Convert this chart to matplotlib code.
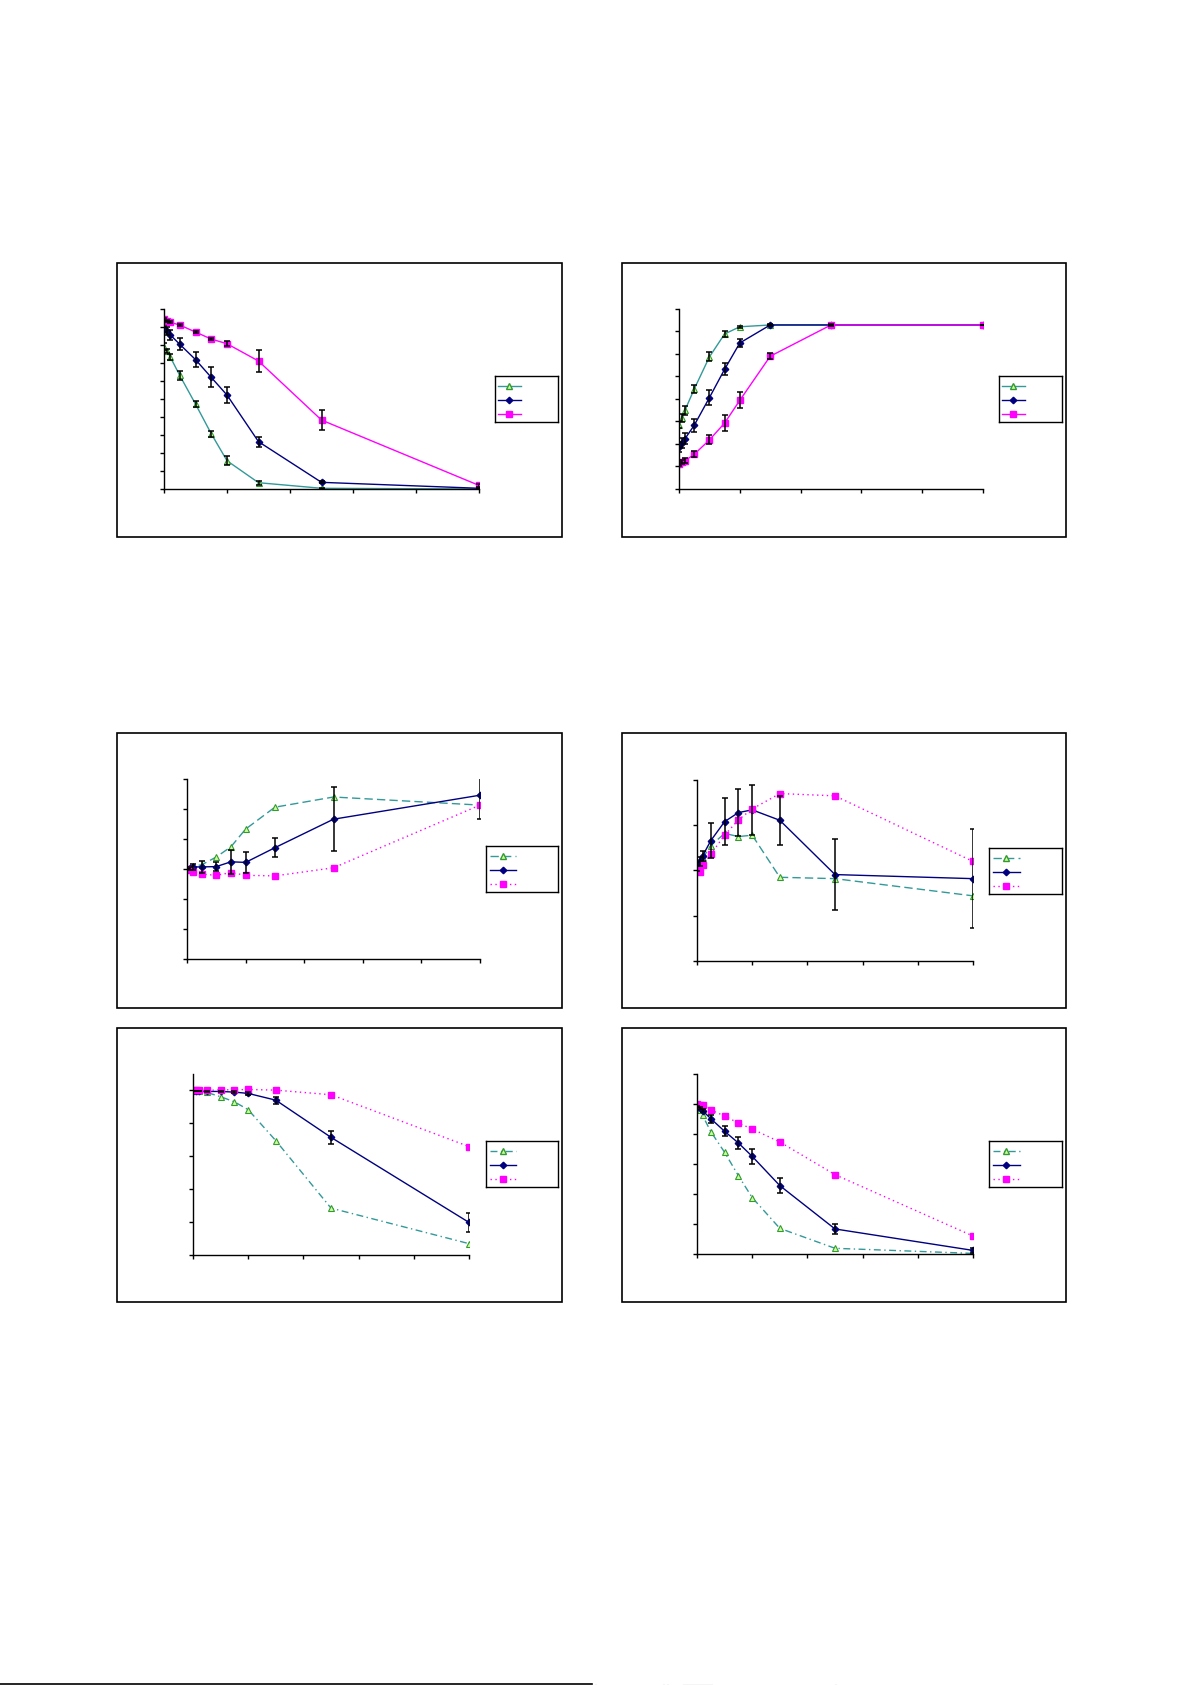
import matplotlib
matplotlib.use("Agg")
import matplotlib.pyplot as plt
from matplotlib.lines import Line2D
from matplotlib.patches import Rectangle

W, H = 1191, 1685

# concentrations (same for every panel)
x_conc = [0, 0.5, 1, 2.5, 5, 7.5, 10, 15, 25, 50]

# panel A (top left)
a_green = [79.1, 76.7, 73.3, 63.1, 47.2, 30.7, 15.7, 3.5, 0.4, 0.0]
a_navy = [88.9, 87.8, 85.6, 80.4, 71.9, 62.0, 52.2, 26.3, 3.7, 0.4]
a_pink = [94.4, 93.5, 92.6, 91.1, 87.2, 83.3, 80.7, 71.1, 38.3, 2.0]
a_green_err = [1.8, 1.0, 1.5, 2.4, 1.7, 1.6, 2.5, 1.2, 0.3, 0.2]
a_navy_err = [1.5, 2.0, 2.8, 3.3, 4.2, 5.5, 4.3, 2.8, 0.5, 0.3]
a_pink_err = [0.8, 0.5, 0.5, 0.6, 0.8, 0.8, 1.5, 5.9, 5.8, 1.0]

# panel B (top right)
b_green = [2.86, 3.16, 3.51, 4.44, 5.87, 6.89, 7.21, 7.29, 7.29, 7.29]
b_navy = [1.85, 2.04, 2.24, 2.83, 4.06, 5.32, 6.49, 7.29, 7.29, 7.29]
b_pink = [1.11, 1.19, 1.26, 1.54, 2.18, 2.93, 3.94, 5.90, 7.29, 7.29]
b_green_err = [0.15, 0.17, 0.2, 0.18, 0.2, 0.13, 0.05, 0, 0, 0]
b_navy_err = [0.22, 0.22, 0.26, 0.3, 0.32, 0.27, 0.18, 0.03, 0, 0]
b_pink_err = [0.1, 0.1, 0.1, 0.13, 0.2, 0.36, 0.35, 0.13, 0.03, 0]

# panel C (middle left)
c_green = [3.0, 3.02, 3.09, 3.14, 3.4, 3.74, 4.33, 5.06, 5.4, 5.13]
c_navy = [3.0, 3.03, 3.07, 3.07, 3.08, 3.24, 3.22, 3.71, 4.66, 5.46]
c_pink = [3.0, 2.98, 2.9, 2.83, 2.79, 2.88, 2.79, 2.77, 3.04, 5.13]
c_navy_err = [0, 0.05, 0.1, 0.2, 0.16, 0.4, 0.35, 0.32, 1.07, 0.78]

# panel D (middle right)
d_green = [2.01, 2.13, 2.27, 2.55, 2.82, 2.75, 2.78, 1.85, 1.82, 1.44]
d_navy = [2.09, 2.2, 2.32, 2.66, 3.08, 3.28, 3.34, 3.11, 1.91, 1.82]
d_pink = [2.01, 1.96, 2.12, 2.36, 2.78, 3.12, 3.36, 3.70, 3.65, 2.2]
d_navy_err = [0.1, 0.1, 0.1, 0.38, 0.52, 0.52, 0.55, 0.54, 0.78, 1.1]

# panel E (bottom left)
e_green = [99.8, 99.6, 99.4, 98.8, 96.2, 93.1, 88.3, 69.5, 28.5, 6.9]
e_navy = [99.8, 99.6, 99.6, 99.4, 99.4, 99.0, 98.2, 94.1, 71.5, 19.8]
e_pink = [100, 100, 100, 100, 100.4, 100.4, 100.6, 100.2, 97.4, 65.9]
e_navy_err = [0, 0, 0, 0.3, 0.5, 0.8, 1.0, 2.1, 4.0, 5.8]

# panel F (bottom right)
f_green = [97.3, 96.0, 92.4, 81.6, 67.8, 52.2, 37.6, 17.1, 3.8, 0.4]
f_navy = [98.2, 97.3, 95.6, 90.2, 81.8, 74.0, 65.1, 45.6, 16.7, 2.4]
f_pink = [100, 99.6, 99.3, 96, 92, 87.3, 83.3, 74.7, 52.9, 12]
f_navy_err = [0.5, 0.8, 1.0, 2.8, 3.3, 4.3, 5.0, 5.1, 3.3, 1.5]

GREEN_LINE = "#339999"
GREEN_EDGE = "#339933"
GREEN_FACE = "#ccff99"
NAVY = "#000080"
PINK = "#ff00ff"

DASHED = (0, (6, 3))
DOTTED = (0, (1, 2.5))
DASHDOT = (0, (5, 2.5, 1, 2.5))


def fbox(x0, y0, x1, y1):
    return [x0 / W, 1 - y1 / H, (x1 - x0) / W, (y1 - y0) / H]


def styles(green_ls, pink_ls):
    return [
        dict(color=GREEN_LINE, ls=green_ls, marker="^", ms=4.8, mfc=GREEN_FACE, mec=GREEN_EDGE, mew=0.8),
        dict(color=NAVY, ls="-", marker="D", ms=3.3, mfc=NAVY, mec=NAVY),
        dict(color=PINK, ls=pink_ls, marker="s", ms=4.6, mfc=PINK, mec=PINK),
    ]


def panel(fig, frame, axbox, legbox, series, errs, ymax, ystep, sty):
    fig.add_artist(Rectangle((frame[0] / W, 1 - frame[3] / H),
                             (frame[2] - frame[0]) / W, (frame[3] - frame[1]) / H,
                             transform=fig.transFigure, fill=False, ec="black", lw=1.2))
    ax = fig.add_axes(fbox(*axbox))
    for ys, st in zip(series, sty):
        ax.plot(x_conc, ys, lw=1.0, zorder=2, **st)
    for ys, e in errs:
        ax.errorbar(x_conc, ys, yerr=e, fmt="none", ecolor="black",
                    elinewidth=1.1, capsize=2.5, capthick=1.1, zorder=3)
    ax.set_xlim(0, 50)
    ax.set_ylim(0, ymax)
    ax.set_xticks(range(0, 51, 10))
    yt = []
    v = 0
    while v <= ymax + 1e-9:
        yt.append(v)
        v += ystep
    ax.set_yticks(yt)
    ax.set_xticklabels([])
    ax.set_yticklabels([])
    ax.tick_params(direction="out", length=3, width=1, colors="black")
    for s in ["top", "right"]:
        ax.spines[s].set_visible(False)
    for s in ["left", "bottom"]:
        ax.spines[s].set_linewidth(1.0)
    ax.patch.set_alpha(0)
    for s in ax.spines.values():
        s.set_clip_on(False)

    lg = fig.add_axes(fbox(*legbox))
    lg.set_xlim(0, 1)
    lg.set_ylim(0, 1)
    lg.set_xticks([])
    lg.set_yticks([])
    for s in lg.spines.values():
        s.set_linewidth(1.0)
    for yy, st in zip([0.78, 0.48, 0.17], sty):
        st2 = dict(st)
        mk = {k: st2.pop(k) for k in ["marker", "ms", "mfc", "mec"] if k in st2}
        st2.pop("mew", None)
        lg.plot([0.05, 0.42], [yy, yy], lw=1.0, color=st2["color"], ls=st2["ls"])
        lg.plot([0.23], [yy], ls="none", marker=mk["marker"], ms=mk["ms"],
                mfc=mk["mfc"], mec=mk["mec"])
    return ax


fig = plt.figure(figsize=(W / 100, H / 100), dpi=100)

panel(fig, (117, 263, 562, 537), (164, 309, 479, 489), (495, 376, 558, 422),
      [a_green, a_navy, a_pink],
      [(a_green, a_green_err), (a_navy, a_navy_err), (a_pink, a_pink_err)],
      100, 10, styles("-", "-"))

panel(fig, (622, 263, 1066, 537), (679, 309, 983, 489), (999, 376, 1062, 422),
      [b_green, b_navy, b_pink],
      [(b_green, b_green_err), (b_navy, b_navy_err), (b_pink, b_pink_err)],
      8, 1, styles("-", "-"))

panel(fig, (117, 733, 562, 1008), (187, 779, 480, 959), (486, 846, 558, 892),
      [c_green, c_navy, c_pink],
      [(c_navy, c_navy_err)],
      6, 1, styles(DASHED, DOTTED))

panel(fig, (622, 733, 1066, 1008), (697, 780, 973, 961), (989, 848, 1062, 894),
      [d_green, d_navy, d_pink],
      [(d_navy, d_navy_err)],
      4, 1, styles(DASHED, DOTTED))

panel(fig, (117, 1028, 562, 1302), (193, 1074, 469, 1255), (486, 1141, 558, 1187),
      [e_green, e_navy, e_pink],
      [(e_navy, e_navy_err)],
      110, 20, styles(DASHDOT, DOTTED))

panel(fig, (622, 1028, 1066, 1302), (697, 1074, 973, 1254), (989, 1141, 1062, 1187),
      [f_green, f_navy, f_pink],
      [(f_navy, f_navy_err)],
      120, 20, styles(DASHDOT, DOTTED))

# page footer rule
fig.add_artist(Line2D([0, 592 / W], [1 - 1684 / H] * 2, transform=fig.transFigure,
                      color="black", lw=1.2))
for xa, xb in [(595, 596), (663, 664), (667, 668), (683, 712), (835, 836)]:
    fig.add_artist(Line2D([xa / W, xb / W], [1 - 1684.5 / H] * 2, transform=fig.transFigure,
                          color="#555555", lw=0.8))

fig.savefig("out.png", dpi=100, facecolor="white")
